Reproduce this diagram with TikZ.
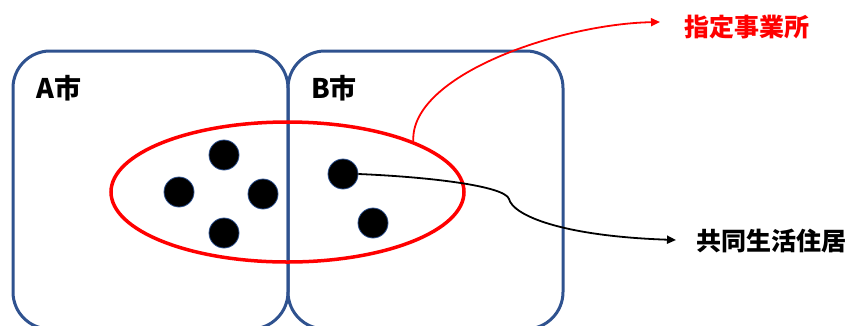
\documentclass[tikz,border=0pt]{standalone}
\usepackage{fontspec}
\setmainfont{Noto Sans CJK JP}
\usetikzlibrary{shapes.geometric,arrows.meta}
\definecolor{boxblue}{RGB}{47,82,143}
\begin{document}
\begin{tikzpicture}[x=1pt,y=-1pt,
  city/.style={draw=boxblue,line width=3pt,rounded corners=37pt,minimum width=275pt,minimum height=278pt,inner sep=0pt},
  citylbl/.style={font=\bfseries\fontsize{27}{30}\selectfont,anchor=west,inner sep=0pt},
  dot/.style={circle,fill=black,draw=boxblue,line width=0.8pt,minimum size=30pt,inner sep=0pt},
  lbl/.style={font=\bfseries\fontsize{25}{28}\selectfont,anchor=west,inner sep=0pt},
  conn/.style={line width=1.8pt,-{Triangle[length=9pt,width=8pt]}}]
\useasboundingbox (0,0) rectangle (850,325);
\node[city] (A) at (150.5,190) {};
\node[city] (B) at (425.5,190) {};
\node[citylbl] (Al) at (36,88) {A市};
\node[citylbl] (Bl) at (311,88) {B市};
\node[ellipse,draw=red,line width=3.5pt,minimum width=353pt,minimum height=140pt,inner sep=0pt] (ell) at (287.5,192) {};
\node[dot] (a1) at (224,155) {};
\node[dot] (a2) at (179,192) {};
\node[dot] (a3) at (263,194) {};
\node[dot] (a4) at (224,233) {};
\node[dot] (b1) at (343,174) {};
\node[dot] (b2) at (373,223) {};
\node[lbl,text=red] (shitei) at (684,27) {指定事業所};
\node[lbl] (kyodo) at (696,241) {共同生活住居};
\coordinate (redend) at (660,22);
\coordinate (blkend) at (676,240);
\draw[conn,red] (ell.22) .. controls (410,75) and (560,24) .. (redend);
\draw[conn,black] (b1.east) .. controls (430,177) and (505,186) .. (509,199)
  .. controls (513,215) and (560,236) .. (blkend);
\end{tikzpicture}
\end{document}
